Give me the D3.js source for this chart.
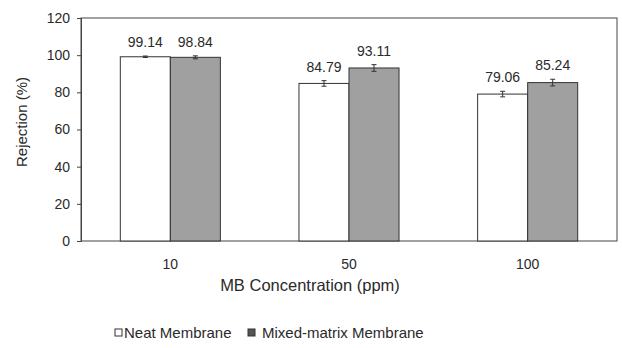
<!DOCTYPE html>
<html>
<head>
<meta charset="utf-8">
<script src="https://cdn.jsdelivr.net/npm/d3@7"></script>
<style>
  body { margin: 0; background: #fff; }
  text { font-family: "Liberation Sans", Arial, sans-serif; fill: #2a2a2a; }
</style>
</head>
<body>
<script>
// data
const concentrations = ['10', '50', '100'];
const seriesNames = ['Neat Membrane', 'Mixed-matrix Membrane'];
const neat  = [99.14, 84.79, 79.06];
const mixed = [98.84, 93.11, 85.24];
const neatErr  = [0.4, 1.5, 1.5];
const mixedErr = [0.8, 1.8, 1.8];
const yTicks = [0, 20, 40, 60, 80, 100, 120];

const width = 622, height = 348;
const margin = {top: 18, right: 5, bottom: 107, left: 81};
const iw = width - margin.left - margin.right;
const ih = height - margin.top - margin.bottom;

const svg = d3.select('body').append('svg')
    .attr('width', width)
    .attr('height', height);

const g = svg.append('g')
    .attr('transform', `translate(${margin.left},${margin.top})`);

const x = d3.scaleBand()
    .domain(concentrations)
    .range([0, iw])
    .paddingInner(0.44)
    .paddingOuter(0.22);

const x1 = d3.scaleBand()
    .domain(seriesNames)
    .range([0, x.bandwidth()]);

const y = d3.scaleLinear().domain([0, 120]).range([ih, 0]);

// frame
g.append('rect')
    .attr('width', iw).attr('height', ih)
    .attr('fill', 'none')
    .attr('stroke', '#444')
    .attr('stroke-width', 1);

const rows = concentrations.map((c, i) => [
  {c, s: seriesNames[0], v: neat[i],  e: neatErr[i]},
  {c, s: seriesNames[1], v: mixed[i], e: mixedErr[i]}
]).flat();

const fills = {'Neat Membrane': '#ffffff', 'Mixed-matrix Membrane': '#a0a0a0'};

g.selectAll('rect.bar')
  .data(rows)
  .join('rect')
    .attr('class', 'bar')
    .attr('x', d => x(d.c) + x1(d.s))
    .attr('y', d => y(d.v))
    .attr('width', x1.bandwidth())
    .attr('height', d => ih - y(d.v))
    .attr('fill', d => fills[d.s])
    .attr('stroke', '#333')
    .attr('stroke-width', 1);

// error bars
const eb = g.selectAll('g.err')
  .data(rows)
  .join('g')
    .attr('class', 'err')
    .attr('transform', d => `translate(${x(d.c) + x1(d.s) + x1.bandwidth() / 2},0)`);
eb.append('line')
    .attr('y1', d => y(d.v - d.e)).attr('y2', d => y(d.v + d.e))
    .attr('stroke', '#333');
eb.append('line')
    .attr('x1', -2.5).attr('x2', 2.5)
    .attr('y1', d => y(d.v + d.e)).attr('y2', d => y(d.v + d.e))
    .attr('stroke', '#333');
eb.append('line')
    .attr('x1', -2.5).attr('x2', 2.5)
    .attr('y1', d => y(d.v - d.e)).attr('y2', d => y(d.v - d.e))
    .attr('stroke', '#333');

// value labels
g.selectAll('text.val')
  .data(rows)
  .join('text')
    .attr('class', 'val')
    .attr('x', d => x(d.c) + x1(d.s) + x1.bandwidth() / 2)
    .attr('y', d => y(d.v + d.e) - 9)
    .attr('text-anchor', 'middle')
    .style('font-size', '14px')
    .text(d => d.v.toFixed(2));

// y axis
const yAxis = g.append('g')
    .call(d3.axisLeft(y).tickValues(yTicks).tickSize(4).tickPadding(7));
yAxis.select('.domain').attr('stroke', '#444');
yAxis.selectAll('.tick line').attr('stroke', '#444');
yAxis.selectAll('.tick text').style('font-size', '14px').attr('fill', '#2a2a2a');

// x axis labels
g.append('g')
    .attr('transform', `translate(0,${ih})`)
    .selectAll('text')
    .data(concentrations)
    .join('text')
      .attr('x', d => x(d) + x.bandwidth() / 2)
      .attr('y', 28)
      .attr('text-anchor', 'middle')
      .style('font-size', '14px')
      .text(d => d);

// axis titles
svg.append('text')
    .attr('x', 310).attr('y', 291)
    .attr('text-anchor', 'middle')
    .style('font-size', '16.5px')
    .text('MB Concentration (ppm)');

svg.append('text')
    .attr('transform', 'translate(27,122) rotate(-90)')
    .attr('text-anchor', 'middle')
    .style('font-size', '15px')
    .text('Rejection (%)');

// legend
const legend = svg.append('g').attr('transform', 'translate(115,338)');
const legX = [0, 133];
seriesNames.forEach((s, i) => {
  const lg = legend.append('g').attr('transform', `translate(${legX[i]},0)`);
  lg.append('rect')
      .attr('x', 0).attr('y', -9)
      .attr('width', 7).attr('height', 7)
      .attr('fill', i === 0 ? '#fff' : '#555')
      .attr('stroke', '#333');
  lg.append('text')
      .attr('x', i === 0 ? 9 : 14).attr('y', 0)
      .style('font-size', '15px')
      .text(s);
});
</script>
</body>
</html>
